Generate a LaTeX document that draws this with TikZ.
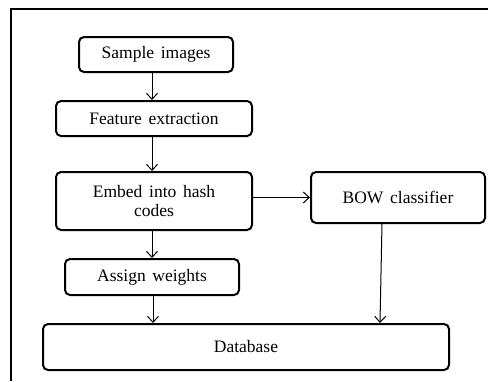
\documentclass[tikz,border=0pt]{standalone}
\usepackage{fontspec}
\setmainfont{Liberation Serif}
\usetikzlibrary{arrows.meta,calc}
\newcommand{\boxfont}{\fontsize{17.5}{19.5}\selectfont\spaceskip=0.38em plus 0.1em\relax}
\begin{document}
\begin{tikzpicture}[x=1pt,y=-1pt,
  box/.style={draw=black,line width=2pt,rounded corners=5pt,inner sep=0pt,align=center,
    font=\boxfont},
  arr/.style={draw=black,line width=1pt,-{Straight Barb[length=6pt,width=11pt,line width=1pt]}}]
\useasboundingbox (0,0) rectangle (488,381);
\draw[line width=2pt] (11,381) -- (11,9) -- (488,9);
\node[box,minimum width=154pt,minimum height=35pt] (sample) at (156,54.5) {Sample images};
\node[box,minimum width=196pt,minimum height=35pt] (feat) at (154,118.5) {Feature extraction};
\node[box,minimum width=196pt,minimum height=58pt] (embed) at (154,201) {Embed into hash\\codes};
\node[box,minimum width=174pt,minimum height=51pt] (bow) at (398,197.5) {BOW classifier};
\node[box,minimum width=174pt,minimum height=36pt] (assign) at (152,277) {Assign weights};
\node[box,minimum width=406pt,minimum height=46pt] (db) at (246,347) {Database};
\draw[arr] ($(sample.south)+(-4,0)$) -- ($(feat.north)+(-2,0)$);
\draw[arr] ($(feat.south)+(-2,0)$) -- ($(embed.north)+(-2,0)$);
\draw[arr] (embed.east |- bow.west) -- (bow.west);
\draw[arr] ($(embed.south)+(-2,0)$) -- ($(assign.north)+(0,0)$);
\draw[arr] ($(assign.south)+(1,0)$) -- ($(db.north)+(-93,0)$);
\draw[arr] ($(bow.south)+(-16,0)$) -- ($(db.north)+(134,0)$);
\end{tikzpicture}
\end{document}
